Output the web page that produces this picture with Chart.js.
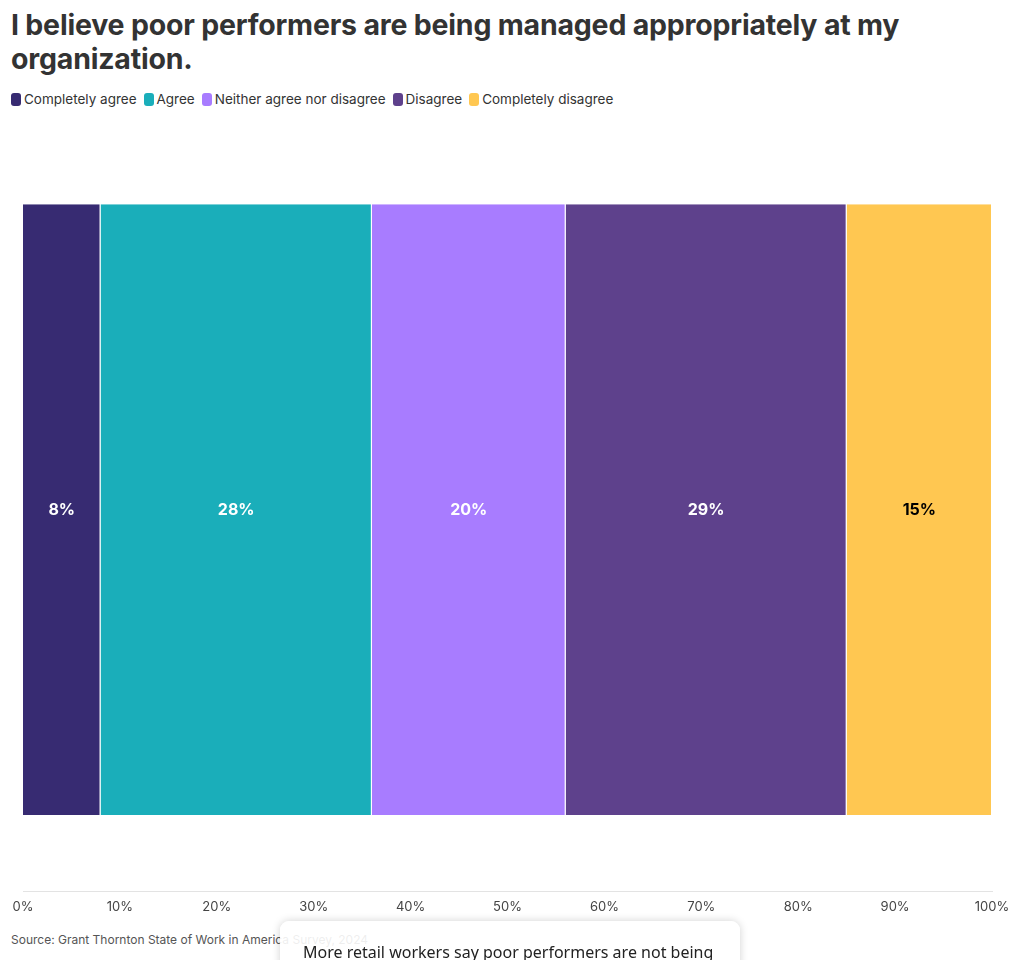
<!DOCTYPE html>
<html><head><meta charset="utf-8">
<script src="https://cdn.jsdelivr.net/npm/chart.js@4.4.1/dist/chart.umd.min.js"></script>
<style>
html,body{margin:0;padding:0;background:#fff;width:1020px;height:960px;overflow:hidden;font-family:Inter,"Open Sans",sans-serif;}
#title{position:absolute;left:11px;top:8px;width:990px;font-size:28.5px;font-weight:700;line-height:34px;color:#333;letter-spacing:-0.2px;}
#legend{position:absolute;left:11px;top:91px;font-size:13.5px;color:#333;display:flex;}
#legend span.item{display:flex;align-items:center;margin-right:7px;}
#legend i{display:inline-block;width:10px;height:13px;border-radius:3px;margin-right:3px;}
#wrap{position:absolute;left:0;top:120px;width:1020px;height:803px;}
#source{position:absolute;left:11px;top:932px;font-size:12px;color:#555;}
#card{position:absolute;left:280px;top:921px;width:460px;height:80px;background:rgba(255,255,255,0.9);border-radius:9px;box-shadow:0 0 8px rgba(0,0,0,0.18);}
#card div{position:absolute;left:23px;top:20px;font-size:16px;color:#222;font-family:"Noto Sans",sans-serif;}
</style></head>
<body>
<div id="title">I believe poor performers are being managed appropriately at my organization.</div>
<div id="legend"></div>
<div id="wrap"><canvas id="c"></canvas></div>
<div id="source">Source: Grant Thornton State of Work in America Survey, 2024</div>
<div id="card"><div>More retail workers say poor performers are not being</div></div>
<script>
const categories = ["All respondents"];
const seriesNames = ["Completely agree","Agree","Neither agree nor disagree","Disagree","Completely disagree"];
const completelyAgree = [8];
const agree = [28];
const neither = [20];
const disagree = [29];
const completelyDisagree = [15];
const seriesColors = ["#372b72","#1aaeba","#a87cff","#5e418c","#ffc751"];
const labelColors = ["#fff","#fff","#fff","#fff","#000"];
const xTicks = [0,10,20,30,40,50,60,70,80,90,100];

const lg = document.getElementById('legend');
seriesNames.forEach((n,i)=>{
  const s=document.createElement('span');s.className='item';
  s.innerHTML='<i style="background:'+seriesColors[i]+'"></i>'+n;lg.appendChild(s);
});

const values=[completelyAgree,agree,neither,disagree,completelyDisagree];
const datasets=seriesNames.map((n,i)=>({label:n,data:values[i],backgroundColor:seriesColors[i],borderColor:'#fff',borderWidth:{left:0,right:1,top:0,bottom:0},borderSkipped:false,barPercentage:1,categoryPercentage:0.8}));

const labelPlugin={id:'lbl',afterDatasetsDraw(chart){
  const ctx=chart.ctx;ctx.save();
  ctx.font='bold 16px Inter, sans-serif';ctx.textAlign='center';ctx.textBaseline='middle';
  chart.data.datasets.forEach((ds,i)=>{
    chart.getDatasetMeta(i).data.forEach((el,j)=>{
      const x=(el.x+el.base)/2;ctx.fillStyle=labelColors[i];
      ctx.fillText(ds.data[j]+'%',x,el.y);
    });
  });ctx.restore();}};

new Chart(document.getElementById('c'),{
  type:'bar',
  data:{labels:categories,datasets},
  options:{indexAxis:'y',responsive:true,maintainAspectRatio:false,animation:false,
    layout:{padding:{left:23,right:28,top:8,bottom:0}},
    plugins:{legend:{display:false},tooltip:{enabled:false}},
    scales:{
      x:{stacked:true,min:0,max:100,
        afterBuildTicks(ax){ax.ticks=xTicks.map(v=>({value:v}));},
        grid:{display:false,drawTicks:false},
        border:{display:true,color:'#e3e3e3'},
        ticks:{color:'#444',font:{size:13,family:'Inter, sans-serif'},padding:8,maxRotation:0,callback:v=>v+'%'}},
      y:{stacked:true,display:false}
    }},
  plugins:[labelPlugin]
});
</script>
</body></html>
